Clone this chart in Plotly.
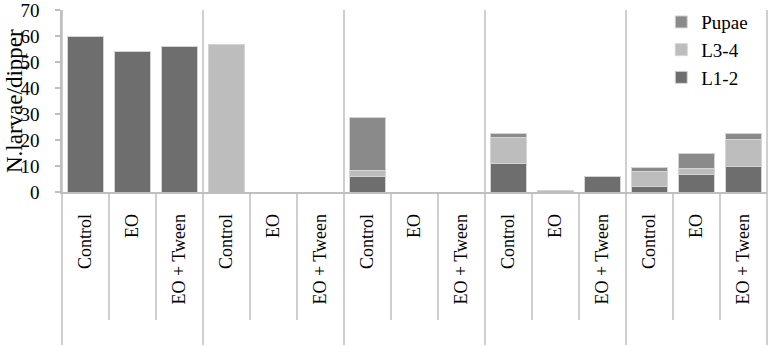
import plotly.graph_objects as go

# ---- data ----
groups = 5
categories = ["Control", "EO", "EO + Tween"] * groups
l12 = [60, 54.2, 56.1, 0, 0, 0, 5.8, 0, 0, 10.9, 0, 5.8, 2.2, 6.8, 9.9]
l34 = [0, 0, 0, 56.6, 0, 0, 2.3, 0, 0, 9.9, 0.4, 0, 5.5, 2.2, 10.3]
pupae = [0, 0, 0, 0, 0, 0, 20.6, 0, 0, 1.7, 0, 0, 1.9, 6.0, 2.3]
series_names = ["L1-2", "L3-4", "Pupae"]
series_colors = ["#6e6e6e", "#bdbdbd", "#8a8a8a"]
y_ticks = [0, 10, 20, 30, 40, 50, 60, 70]
y_title = "N.larvae/dipper"

FONT = "Liberation Serif"
LINE = "#bfbfbf"

x = list(range(len(categories)))
fig = go.Figure()
for name, vals, col in zip(series_names, [l12, l34, pupae], series_colors):
    fig.add_trace(go.Bar(
        x=x, y=vals, name=name,
        marker=dict(color=col, line=dict(color="#d4d4d4", width=1)),
    ))

n = len(categories)
per_group = n // groups
shapes = []
for b in range(n + 1):
    xp = b / n
    if b % per_group == 0:
        y0, y1 = -153 / 182, 1.0
    else:
        y0, y1 = -128 / 182, 0.0
    shapes.append(dict(type="line", xref="paper", yref="paper",
                       x0=xp, x1=xp, y0=y0, y1=y1,
                       line=dict(color=LINE, width=1.5)))

fig.add_annotation(text=y_title, textangle=-90, xref="paper", yref="paper",
                   x=-48 / 705, y=0.5, xanchor="center", yanchor="middle",
                   showarrow=False, font=dict(family=FONT, size=23, color="black"))

fig.update_layout(
    width=772, height=347,
    margin=dict(l=62, r=5, t=10, b=155, autoexpand=False),
    barmode="stack", bargap=0.234,
    plot_bgcolor="white", paper_bgcolor="white",
    font=dict(family=FONT, color="black", size=18),
    shapes=shapes,
    legend=dict(x=0.850, y=1.038, xanchor="left", yanchor="top",
                traceorder="reversed",
                font=dict(family=FONT, size=19), itemwidth=30,
                bgcolor="rgba(0,0,0,0)"),
    xaxis=dict(range=[-0.5, n - 0.5], tickvals=x, ticktext=categories,
               tickangle=-90, ticks="", showline=True, linecolor=LINE,
               linewidth=1.5, showgrid=False, zeroline=False, automargin=False,
               ticklabelstandoff=13, ticklabeloverflow="allow",
               tickfont=dict(family=FONT, size=18)),
    yaxis=dict(range=[0, 70], tickvals=y_ticks, ticks="outside", ticklen=5,
               tickcolor=LINE, tickwidth=1.5, showline=True, linecolor=LINE,
               linewidth=1.5, showgrid=False, zeroline=False, automargin=False,
               ticklabelstandoff=12, ticklabeloverflow="allow",
               tickfont=dict(family=FONT, size=19)),
)
fig.write_html("out.html", config={"displayModeBar": False},
               post_script="document.body.style.margin='0';document.body.style.overflow='hidden';")
